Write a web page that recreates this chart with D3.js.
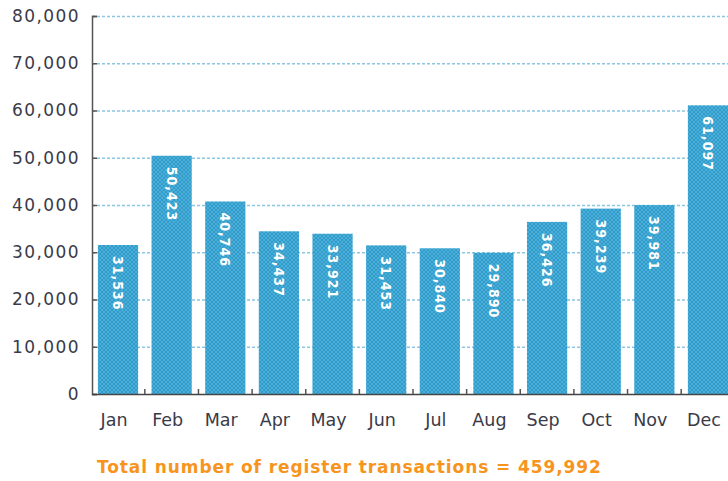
<!DOCTYPE html>
<html><head><meta charset="utf-8">
<script src="https://cdn.jsdelivr.net/npm/d3@7"></script>
<style>
body{margin:0;background:#fff;}
svg{display:block;}
</style></head>
<body>
<svg id="chart" width="728" height="481"></svg>
<script>
const months = ["Jan","Feb","Mar","Apr","May","Jun","Jul","Aug","Sep","Oct","Nov","Dec"];
const transactions = [31536,50423,40746,34437,33921,31453,30840,29890,36426,39239,39981,61097];
const valueLabels = ["31,536","50,423","40,746","34,437","33,921","31,453","30,840","29,890","36,426","39,239","39,981","61,097"];
const yTicks = [0,10000,20000,30000,40000,50000,60000,70000,80000];
const totalText = "Total number of register transactions = 459,992";

const svg = d3.select("#chart");
const x0 = 92, yBottom = 394, yTop = 16;
const x = d3.scaleBand().domain(months).range([x0, 734]).paddingInner(0.25).paddingOuter(0.11);
const y = d3.scaleLinear().domain([0,80000]).range([yBottom, yTop]);

// grid
svg.append("g").selectAll("line").data(yTicks.filter(d=>d>0)).join("line")
  .attr("x1", x0).attr("x2", 728)
  .attr("y1", d=>y(d)+0.5).attr("y2", d=>y(d)+0.5)
  .attr("stroke", "#8cc6e3").attr("stroke-width", 1.3).attr("stroke-dasharray", "3,2");

// pattern for bars
const defs = svg.append("defs");
const pat = defs.append("pattern").attr("id","hatch").attr("width",4).attr("height",4).attr("patternUnits","userSpaceOnUse");
pat.append("rect").attr("width",4).attr("height",4).attr("fill","#2e9dcb");
pat.append("path").attr("d","M0,0 L4,4 M4,0 L0,4").attr("stroke","#5cb6dc").attr("stroke-width",0.7);

// bars
svg.append("g").selectAll("rect").data(transactions).join("rect")
  .attr("x", (d,i)=>x(months[i]))
  .attr("y", d=>y(d))
  .attr("width", x.bandwidth())
  .attr("height", d=>yBottom - y(d))
  .attr("fill", "url(#hatch)");

// value labels (rotated)
svg.append("g").selectAll("text").data(transactions).join("text")
  .attr("transform", (d,i)=>`translate(${x(months[i]) + x.bandwidth()/2},${y(d)+11}) rotate(90)`)
  .attr("dy", "0.35em")
  .attr("text-anchor","start")
  .attr("fill","#fff")
  .attr("font-family","DejaVu Sans Condensed, DejaVu Sans, sans-serif")
  .attr("font-weight","bold")
  .attr("font-size", 14)
  .attr("letter-spacing", 1)
  .text((d,i)=>valueLabels[i]);

// y axis
const yAxis = d3.axisLeft(y).tickValues(yTicks).tickSize(-5).tickPadding(12)
  .tickFormat(d3.format(","));
const gy = svg.append("g").attr("transform", `translate(${x0},0)`).call(yAxis);
gy.select(".domain").attr("stroke","#555").attr("stroke-width",1.5);
gy.selectAll(".tick line").attr("stroke","#555").attr("stroke-width",1.5);
gy.selectAll(".tick text").attr("font-family","DejaVu Sans, sans-serif").attr("font-size",17)
  .attr("fill","#3a3a48").attr("letter-spacing",1.4);

// x axis baseline + small ticks at band boundaries
svg.append("line").attr("x1",x0).attr("x2",728).attr("y1",yBottom+0.5).attr("y2",yBottom+0.5)
  .attr("stroke","#444").attr("stroke-width",1.5);
svg.append("g").selectAll("line").data(months.slice(1)).join("line")
  .attr("x1", d=>x(d)-x.step()*x.paddingInner()/2).attr("x2", d=>x(d)-x.step()*x.paddingInner()/2)
  .attr("y1", yBottom).attr("y2", yBottom-5)
  .attr("stroke","#555").attr("stroke-width",1.5);

// month labels
svg.append("g").selectAll("text").data(months).join("text")
  .attr("x", d=>x(d)+x.bandwidth()/2 - 4)
  .attr("y", 426)
  .attr("text-anchor","middle")
  .attr("font-family","DejaVu Sans, sans-serif")
  .attr("font-size",17.5)
  .attr("fill","#3a3a48")
  .text(d=>d);

// total
svg.append("text").attr("x",97).attr("y",473)
  .attr("font-family","DejaVu Sans, sans-serif")
  .attr("font-size",17)
  .attr("font-weight","bold")
  .attr("letter-spacing",0.9)
  .attr("fill","#f7941d")
  .text(totalText);
</script>
</body></html>
